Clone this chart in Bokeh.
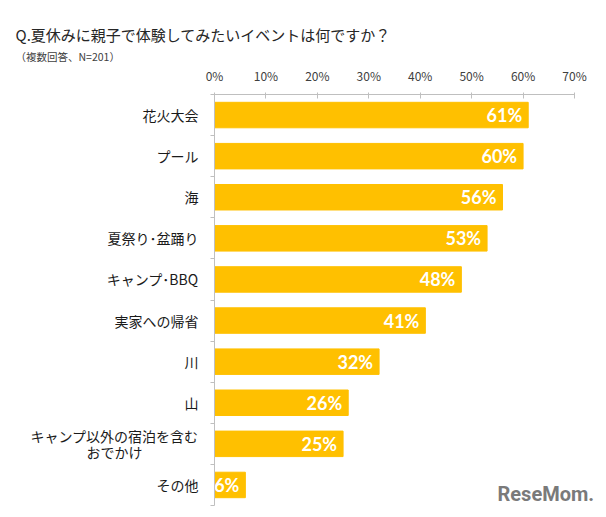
from bokeh.plotting import figure
from bokeh.models import (Range1d, LinearAxis, FixedTicker, Title,
                          NumeralTickFormatter, Label, ColumnDataSource)
from bokeh.core.properties import value
from bokeh.embed import file_html
from bokeh.resources import INLINE

categories = ["花火大会", "プール", "海", "夏祭り･盆踊り", "キャンプ･BBQ", "実家への帰省",
              "川", "山", "キャンプ以外の宿泊を含む\nおでかけ\u3000\u3000\u3000\u3000", "その他"]
values = [61, 60, 56, 53, 48, 41, 32, 26, 25, 6]
x_ticks = [0, 0.1, 0.2, 0.3, 0.4, 0.5, 0.6, 0.7]
title_text = "Q.夏休みに親子で体験してみたいイベントは何ですか？"
subtitle_text = "（複数回答、N=201）"

JP = "Noto Sans CJK JP"
n = len(categories)
y_pos = [n - i - 0.5 for i in range(n)]

src = ColumnDataSource(dict(
    y=y_pos,
    val=[v / 100 for v in values],
    lbl=[f"{v}%" for v in values],
))

W, H = 606, 517
LEFT, TOP, BOTTOM = 214, 94, 12
AXIS_END_PX = 574
X_MAX = 0.7
x_end = X_MAX * (W - LEFT) / (AXIS_END_PX - LEFT)   # frame runs to the right edge, axis stops at 70%

p = figure(width=W, height=H,
           x_range=Range1d(0, x_end), y_range=Range1d(0, n),
           x_axis_location="above", y_axis_location=None,
           output_backend="svg", toolbar_location=None,
           min_border_left=LEFT, min_border_right=0,
           min_border_top=TOP, min_border_bottom=BOTTOM)

p.outline_line_color = None
p.grid.visible = False
p.background_fill_color = "white"
p.border_fill_color = "white"

# top x axis
xa = p.xaxis[0]
xa.ticker = FixedTicker(ticks=x_ticks)
xa.bounds = (0, X_MAX)
xa.formatter = NumeralTickFormatter(format="0%")
xa.axis_line_color = "#BFBFBF"
xa.major_tick_line_color = "#BFBFBF"
xa.major_tick_in = 4
xa.major_tick_out = 2
xa.minor_tick_line_color = None
xa.major_label_standoff = 9
xa.major_label_text_font = JP
xa.major_label_text_font_size = "12px"
xa.major_label_text_color = "#404040"

# left boundary-tick axis (no labels)
bticks = list(range(n + 1))
ax_b = LinearAxis(ticker=FixedTicker(ticks=bticks),
                  major_label_overrides={t: "" for t in bticks},
                  major_label_standoff=0,
                  major_tick_in=0, major_tick_out=4, minor_tick_line_color=None,
                  axis_line_color="#BFBFBF", major_tick_line_color="#BFBFBF")
p.add_layout(ax_b, "left")

ax_c = LinearAxis(ticker=FixedTicker(ticks=y_pos),
                  major_label_overrides={y: c for y, c in zip(y_pos, categories)},
                  axis_line_color=None, major_tick_line_color=None, minor_tick_line_color=None,
                  major_tick_in=0, major_tick_out=0, major_label_standoff=12,
                  major_label_text_font=JP, major_label_text_font_size="14px",
                  major_label_text_line_height=0.8,
                  major_label_text_color="#1a1a1a")
p.add_layout(ax_c, "left")

p.hbar(y="y", left=0, right="val", height=0.62, color="#FFC000", source=src)
p.text(x="val", y="y", text="lbl", x_offset=-6, text_align="right",
       text_baseline="middle", text_color="white", text_font=value("Lato"),
       text_font_style="bold", text_font_size="18px", source=src)

# titles
p.add_layout(Title(text=subtitle_text, align="left", offset=15 - LEFT, standoff=-1,
                   text_font=JP, text_font_size="10.5px", text_font_style="normal",
                   text_color="#404040"), "above")
p.add_layout(Title(text=title_text, align="left", offset=15 - LEFT, standoff=6,
                   text_font=JP, text_font_size="15px", text_font_style="normal",
                   text_color="#262626"), "above")

logo = Label(x=497 - LEFT, y=0, x_units="screen", y_units="screen", text="ReseMom.",
             text_font="Roboto", text_font_style="bold", text_font_size="20px",
             text_color="#7a7a7a")
p.add_layout(logo)

open("out.html", "w").write(file_html(p, INLINE))
